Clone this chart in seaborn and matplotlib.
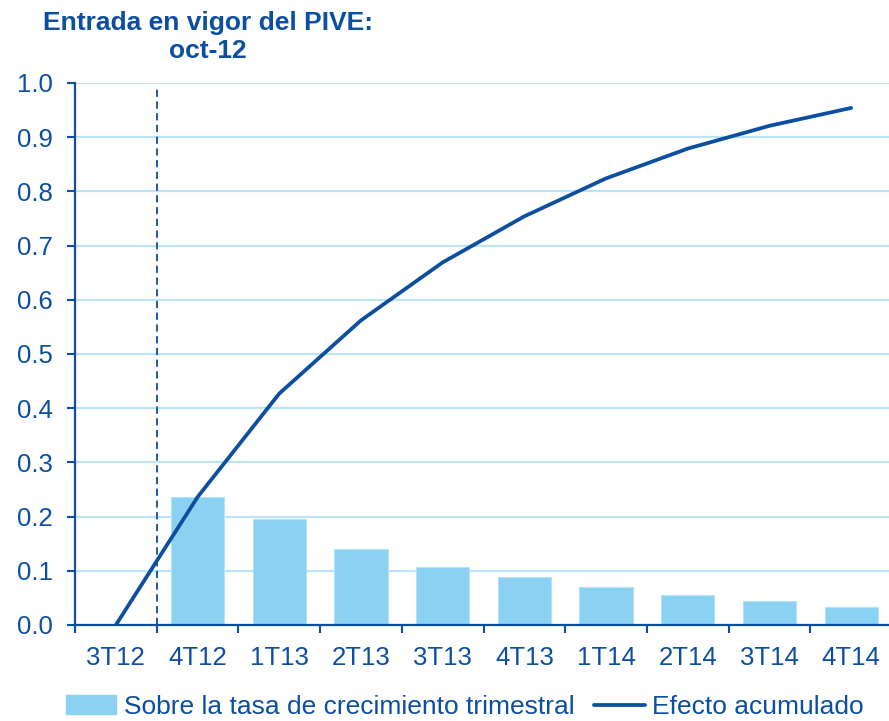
import numpy as np
import pandas as pd
import matplotlib
matplotlib.use("Agg")
import matplotlib.pyplot as plt
import seaborn as sns
from matplotlib.patches import Patch
from matplotlib.lines import Line2D

categories = ["3T12", "4T12", "1T13", "2T13", "3T13", "4T13", "1T14", "2T14", "3T14", "4T14"]
bar_values = [0.0, 0.236, 0.196, 0.140, 0.107, 0.088, 0.070, 0.055, 0.044, 0.033]
line_values = [0.0, 0.236, 0.427, 0.562, 0.669, 0.754, 0.824, 0.879, 0.921, 0.954]
yticks = [0.0, 0.1, 0.2, 0.3, 0.4, 0.5, 0.6, 0.7, 0.8, 0.9, 1.0]
bar_label = "Sobre la tasa de crecimiento trimestral"
line_label = "Efecto acumulado"
title_text = "Entrada en vigor del PIVE:\noct-12"

DARK = "#0B4EA2"
BAR = "#8BD1F2"
GRID = "#BDE4F6"
FS = 18.5

sns.set_theme(style="white")
plt.rcParams["font.family"] = ["Liberation Sans", "DejaVu Sans"]

df = pd.DataFrame({"cat": categories, "bar": bar_values, "line": line_values,
                   "pos": np.arange(len(categories))})

fig = plt.figure(figsize=(8.89, 7.21), dpi=100)
W, H = 889, 721
ax = fig.add_axes([75 / W, 1 - 625 / H, 817 / W, (625 - 83) / H])

sns.barplot(data=df, x="cat", y="bar", color=BAR, width=0.65, saturation=1,
            edgecolor="#B5E2F7", linewidth=0.8, ax=ax, zorder=2)
sns.lineplot(x=df["pos"], y=df["line"], color=DARK, linewidth=2.7, ax=ax, zorder=3)

ax.set_xlim(-0.5, len(categories) - 0.5)
ax.set_ylim(0, 1.0)
ax.set_yticks(yticks)
ax.set_yticklabels([f"{v:.1f}" for v in yticks])
ax.set_xticks(np.arange(len(categories)))
ax.set_xticklabels(categories)
ax.set_xticks(np.arange(-0.5, len(categories), 1), minor=True)
ax.tick_params(axis="x", which="major", length=0, pad=15, labelsize=FS, labelcolor=DARK)
ax.tick_params(axis="x", which="minor", length=5.5, width=1.5, color=DARK, direction="out", bottom=True)
ax.tick_params(axis="y", length=6, width=1.5, color=DARK, left=True, pad=10,
               labelsize=FS, labelcolor=DARK)
ax.set_xlabel("")
ax.set_ylabel("")

ax.yaxis.grid(True, color=GRID, linewidth=1.6, zorder=0)
ax.set_axisbelow(True)
for s in ["top", "right"]:
    ax.spines[s].set_visible(False)
for s in ["left", "bottom"]:
    ax.spines[s].set_color(DARK)
    ax.spines[s].set_linewidth(1.6)
    ax.spines[s].set_zorder(4)

ax.vlines(0.5, 0, 0.99, colors=DARK, linestyles=(0, (4, 2.5)), linewidth=1.3, zorder=4)

fig.text(208 / W, 1 - 37 / H, title_text, ha="center", va="center", fontsize=19,
         fontweight="bold", color=DARK, linespacing=1.2)

handles = [Patch(facecolor=BAR, edgecolor=BAR, label=bar_label),
           Line2D([0], [0], color=DARK, linewidth=2.7, label=line_label)]
fig.legend(handles=handles, loc="center", bbox_to_anchor=(465 / W, 1 - 707 / H), ncol=2,
           frameon=False, fontsize=19, labelcolor=DARK, handlelength=1.9,
           handleheight=0.75, handletextpad=0.3, columnspacing=0.75, borderaxespad=0)

fig.savefig("out.png", dpi=100)
